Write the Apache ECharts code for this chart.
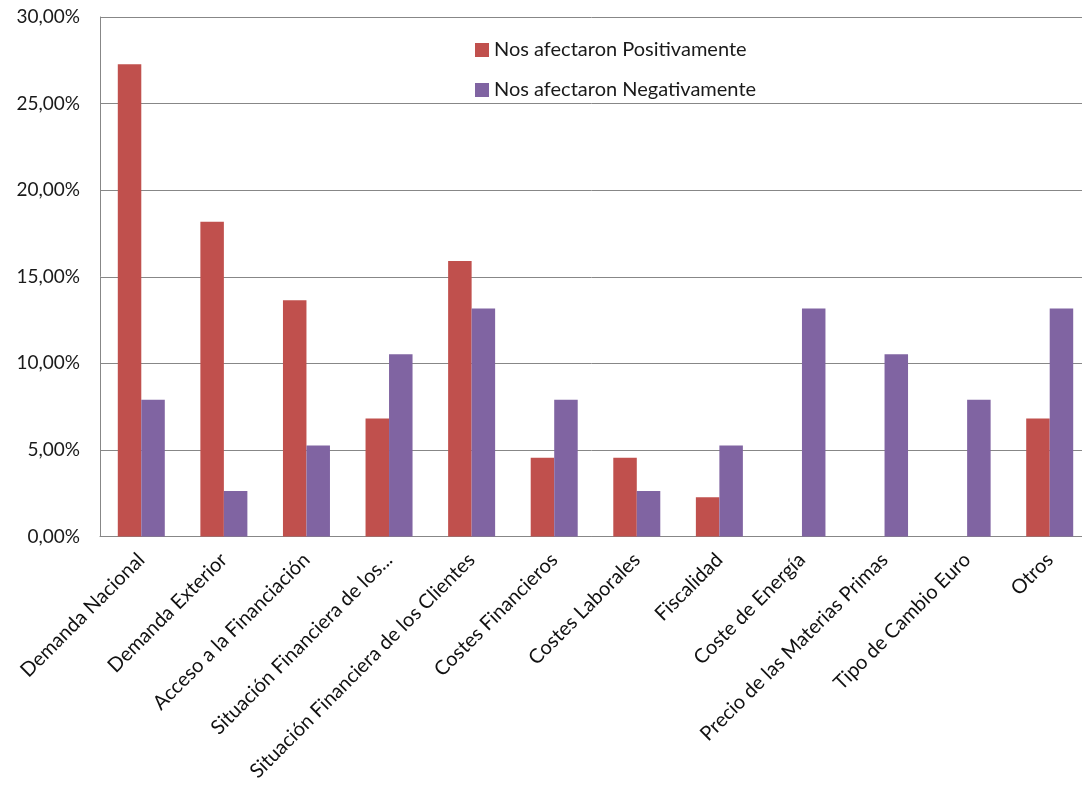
<!DOCTYPE html>
<html>
<head>
<meta charset="utf-8">
<script src="https://cdn.jsdelivr.net/npm/echarts@6/dist/echarts.min.js"></script>
<style>
  html, body { margin: 0; padding: 0; background: #ffffff; }
  #chart { width: 1082px; height: 789px; }
</style>
</head>
<body>
<div id="chart"></div>
<script>
const categories = [
  "Demanda Nacional",
  "Demanda Exterior",
  "Acceso a la Financiación",
  "Situación Financiera de los...",
  "Situación Financiera de los Clientes",
  "Costes Financieros",
  "Costes Laborales",
  "Fiscalidad",
  "Coste de Energía",
  "Precio de las Materias Primas",
  "Tipo de Cambio Euro",
  "Otros"
];
const seriesNames = ["Nos afectaron Positivamente", "Nos afectaron Negativamente"];
const positivos = [27.27, 18.18, 13.64, 6.82, 15.91, 4.55, 4.55, 2.27, 0, 0, 0, 6.82];
const negativos = [7.89, 2.63, 5.26, 10.53, 13.16, 7.89, 2.63, 5.26, 13.16, 10.53, 7.89, 13.16];
const yTicks = { min: 0, max: 30, interval: 5 };

const FONT = "Lato";
const chart = echarts.init(document.getElementById('chart'), null, { renderer: 'canvas' });
chart.setOption({
  animation: false,
  backgroundColor: '#ffffff',
  textStyle: { fontFamily: FONT },
  grid: { left: 100, top: 17, width: 991, bottom: 252.5, containLabel: false, outerBoundsMode: 'none' },
  legend: {
    orient: 'vertical',
    left: 475,
    top: 40,
    padding: 0,
    itemWidth: 14,
    itemHeight: 14,
    itemGap: 20,
    icon: 'rect',
    textStyle: { fontFamily: FONT, fontSize: 20, color: '#1a1a1a' },
    data: seriesNames
  },
  xAxis: {
    type: 'category',
    data: categories,
    axisLine: { lineStyle: { color: '#878787', width: 1 } },
    axisTick: { show: false },
    axisLabel: {
      interval: 0,
      rotate: 45,
      margin: 20,
      fontFamily: FONT,
      fontSize: 20,
      color: '#111111'
    }
  },
  yAxis: {
    type: 'value',
    min: yTicks.min,
    max: yTicks.max,
    interval: yTicks.interval,
    axisLine: { show: true, lineStyle: { color: '#878787', width: 1 } },
    axisTick: { show: false },
    splitLine: { lineStyle: { color: '#878787', width: 1 } },
    axisLabel: {
      margin: 20,
      fontFamily: FONT,
      fontSize: 19,
      color: '#1a1a1a',
      formatter: v => v.toFixed(2).replace('.', ',') + '%'
    }
  },
  series: [
    {
      name: seriesNames[0],
      type: 'bar',
      data: positivos,
      barWidth: 23.5,
      barGap: '0%',
      itemStyle: { color: '#C0504D' }
    },
    {
      name: seriesNames[1],
      type: 'bar',
      data: negativos,
      barWidth: 23.5,
      barGap: '0%',
      itemStyle: { color: '#8064A2' }
    }
  ]
});
</script>
</body>
</html>
